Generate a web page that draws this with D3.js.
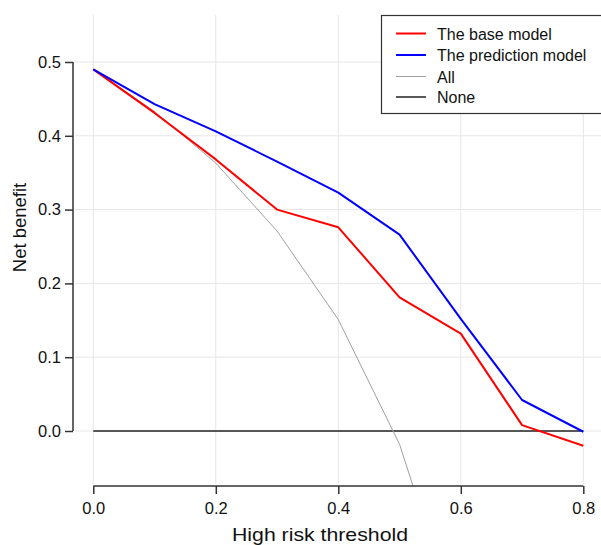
<!DOCTYPE html>
<html>
<head>
<meta charset="utf-8">
<script src="https://cdn.jsdelivr.net/npm/d3@7"></script>
<style>
  html, body { margin: 0; padding: 0; background: #fff; }
  svg { display: block; font-family: "Liberation Sans", Arial, sans-serif; }
</style>
</head>
<body>
<svg id="chart" width="601" height="545"></svg>
<script>
// ---- data ----
const thresholds = [0, 0.1, 0.2, 0.3, 0.4, 0.5, 0.6, 0.7, 0.8];
const baseModel = [0.490, 0.431, 0.368, 0.300, 0.276, 0.181, 0.132, 0.008, -0.020];
const predictionModel = [0.490, 0.443, 0.406, 0.365, 0.323, 0.266, 0.152, 0.042, -0.001];
const treatAll = [0.490, 0.433, 0.363, 0.271, 0.151, -0.018, -0.275, -0.700, -1.550];
const treatNone = [0, 0, 0, 0, 0, 0, 0, 0, 0];
const xTicks = [0, 0.2, 0.4, 0.6, 0.8];
const yTicks = [0, 0.1, 0.2, 0.3, 0.4, 0.5];
const seriesNames = ["The base model", "The prediction model", "All", "None"];
const seriesColors = ["#ff0000", "#0000ff", "#a0a0a0", "#222222"];
const seriesWidths = [2, 2, 1, 1.5];

// ---- layout ----
const svg = d3.select("#chart");
const x = d3.scaleLinear().domain([0, 0.8]).range([93.3, 583.3]);
const y = d3.scaleLinear().domain([0, 0.5]).range([431, 62]);
const plot = { left: 73, right: 601, top: 15, bottom: 486 };

// grid
const grid = svg.append("g");
grid.selectAll("line.v").data(xTicks).enter().append("line")
  .attr("x1", d => x(d)).attr("x2", d => x(d))
  .attr("y1", plot.top).attr("y2", plot.bottom - 2)
  .attr("stroke", "#e6e6e6").attr("stroke-width", 1);
grid.selectAll("line.h").data(yTicks).enter().append("line")
  .attr("x1", plot.left + 2).attr("x2", plot.right)
  .attr("y1", d => y(d)).attr("y2", d => y(d))
  .attr("stroke", "#e6e6e6").attr("stroke-width", 1);

// clip
svg.append("clipPath").attr("id", "clip").append("rect")
  .attr("x", plot.left).attr("y", plot.top)
  .attr("width", plot.right - plot.left).attr("height", plot.bottom - plot.top);

const allSeries = [baseModel, predictionModel, treatAll, treatNone];
const line = d3.line().x((d, i) => x(thresholds[i])).y(d => y(d));
const lines = svg.append("g").attr("clip-path", "url(#clip)");
// draw in order: None, All, base, prediction
[3, 2, 0, 1].forEach(k => {
  lines.append("path").datum(allSeries[k])
    .attr("d", line).attr("fill", "none")
    .attr("stroke", seriesColors[k]).attr("stroke-width", seriesWidths[k])
    .attr("stroke-linejoin", "round");
});

// axes
const axisColor = "#333";
const xAxis = svg.append("g").attr("transform", `translate(0,${plot.bottom})`)
  .call(d3.axisBottom(x).tickValues(xTicks).tickFormat(d3.format(".1f")).tickSize(8).tickPadding(8));
const yAxis = svg.append("g").attr("transform", `translate(${plot.left},0)`)
  .call(d3.axisLeft(y).tickValues(yTicks).tickFormat(d3.format(".1f")).tickSize(8).tickPadding(4));
[xAxis, yAxis].forEach(a => {
  a.select(".domain").attr("stroke", axisColor).attr("stroke-width", 1.5);
  a.selectAll(".tick line").attr("stroke", axisColor).attr("stroke-width", 1.5);
  a.selectAll(".tick text").attr("fill", "#111").style("font-size", "16.5px")
    .style("font-family", '"Liberation Sans", Arial, sans-serif');
});
// R style: axis line spans first to last tick only
xAxis.select(".domain").attr("d", `M${x(0)},0H${x(0.8)}`);
yAxis.select(".domain").attr("d", `M0,${y(0)}V${y(0.5)}`);

// axis titles
svg.append("text").attr("x", 320).attr("y", 541)
  .attr("text-anchor", "middle").attr("fill", "#111")
  .attr("textLength", 176).attr("lengthAdjust", "spacingAndGlyphs")
  .style("font-size", "18.5px").text("High risk threshold");
svg.append("text").attr("transform", "translate(26,227.5) rotate(-90)")
  .attr("text-anchor", "middle").attr("fill", "#111")
  .style("font-size", "18.5px").text("Net benefit");

// legend
const legend = svg.append("g");
legend.append("rect").attr("x", 381.5).attr("y", 15.5).attr("width", 230).attr("height", 98)
  .attr("fill", "#fff").attr("stroke", "#333").attr("stroke-width", 1.2);
const rowY = [39.5, 61, 82.5, 103];
seriesNames.forEach((name, i) => {
  legend.append("line").attr("x1", 396).attr("x2", 426)
    .attr("y1", rowY[i] - 6).attr("y2", rowY[i] - 6)
    .attr("stroke", seriesColors[i]).attr("stroke-width", seriesWidths[i]);
  legend.append("text").attr("x", 437).attr("y", rowY[i])
    .attr("fill", "#111").style("font-size", "16px").text(name);
});
</script>
</body>
</html>
